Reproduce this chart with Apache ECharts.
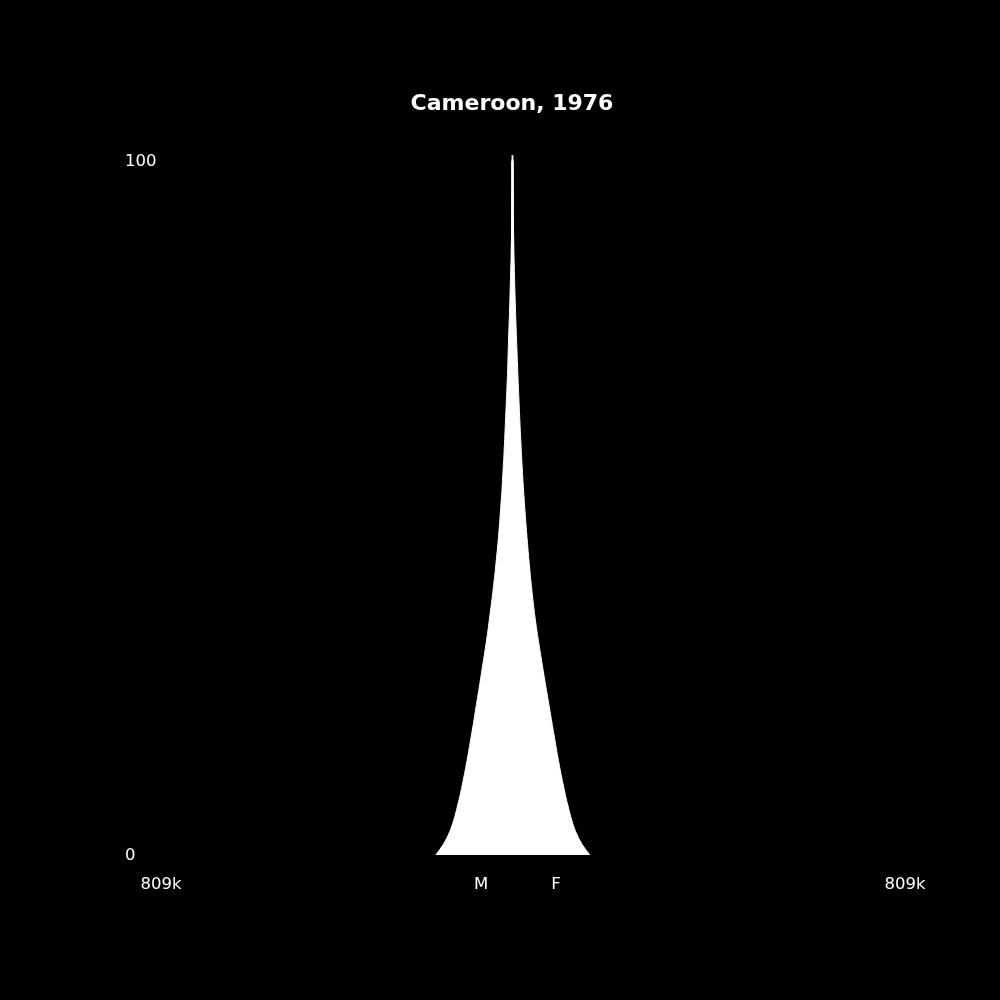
<!DOCTYPE html>
<html>
<head>
<meta charset="utf-8">
<script src="https://cdn.jsdelivr.net/npm/echarts@6/dist/echarts.min.js"></script>
<style>
html,body{margin:0;padding:0;background:#000;}
#chart{width:1000px;height:1000px;}
</style>
</head>
<body>
<div id="chart"></div>
<script>
// Population (thousands) by single year of age, 0..100
const ages = Array.from({length: 101}, (_, i) => i);
const malesK = [
 176.4,164.5,154.5,146.5,140.0,134.8,130.3,126.3,122.4,118.7,
 115.3,112.1,108.9,105.9,102.9,100.1,97.4,94.6,91.9,89.1,
 86.6,84.1,81.5,78.8,76.2,73.7,71.2,68.7,66.1,63.6,
 61.1,58.8,56.5,54.4,52.4,50.3,48.2,46.2,44.3,42.5,
 40.6,39.0,37.4,35.8,34.2,32.8,31.5,30.1,28.9,27.8,
 26.6,25.5,24.3,23.4,22.5,21.6,20.7,19.7,19.1,18.1,
 17.5,16.8,16.1,15.4,14.7,14.0,13.3,12.6,11.9,11.3,
 10.8,10.3,9.9,9.4,9.0,8.3,7.8,7.1,6.7,6.2,
 5.7,5.3,4.8,4.4,3.9,3.4,3.1,2.8,2.4,2.1,
 1.8,1.7,1.6,1.5,1.4,1.3,1.2,1.2,1.1,1.1,
 1.0
];
const femalesK = [
 178,165.5,155.5,147.5,141,136,131.5,127.5,123.5,120,
 116.5,113.2,110,107,104,101.2,98.5,95.8,93,90.3,
 87.6,84.9,82.2,79.5,76.7,74,71.4,68.8,66.2,63.6,
 61,58.5,56.1,53.8,51.6,49.6,47.7,45.9,44.2,42.5,
 40.9,39.4,37.9,36.5,35.1,33.8,32.5,31.2,30,28.8,
 27.7,26.6,25.5,24.5,23.5,22.6,21.7,20.8,20,19.2,
 18.4,17.6,16.9,16.2,15.5,14.8,14.1,13.4,12.7,12.1,
 11.5,10.9,10.3,9.7,9.1,8.5,7.9,7.3,6.8,6.3,
 5.8,5.3,4.9,4.5,4.1,3.7,3.3,3.0,2.7,2.4,
 2.1,1.9,1.7,1.6,1.5,1.4,1.3,1.2,1.1,1.1,
 1.0
];
const maxPop = 809000;
const maxLabel = '809k';
const yTickLabels = ['100', '0'];
const sexLabels = ['M', 'F'];
const titleText = 'Cameroon, 1976';

const chart = echarts.init(document.getElementById('chart'), null, {renderer: 'canvas'});
const font = 'DejaVu Sans';
const txt = (x, y, text, align) => ({
  type: 'text', x: x, y: y,
  style: {text: text, fill: '#fff', font: '16.5px "' + font + '"', align: align || 'center', verticalAlign: 'middle'}
});

chart.setOption({
  backgroundColor: '#000',
  animation: false,
  title: {
    text: titleText, left: 512, top: 104, textAlign: 'center', textVerticalAlign: 'middle', padding: 0,
    textStyle: {color: '#fff', fontFamily: font, fontWeight: 'bold', fontSize: 22}
  },
  grid: {left: 125, right: 100, top: 155, bottom: 145},
  xAxis: {
    type: 'value', min: -maxPop * 1.1, max: maxPop * 1.1,
    show: false
  },
  yAxis: {
    type: 'category', data: ages, boundaryGap: false, show: false
  },
  series: [
    {
      name: sexLabels[0], type: 'line', showSymbol: false, smooth: 0.5,
      data: malesK.map(v => -v * 1000),
      lineStyle: {color: '#fff', width: 1},
      itemStyle: {color: '#fff'},
      areaStyle: {color: '#fff', opacity: 1, origin: 3000}
    },
    {
      name: sexLabels[1], type: 'line', showSymbol: false, smooth: 0.5,
      data: femalesK.map(v => v * 1000),
      lineStyle: {color: '#fff', width: 1},
      itemStyle: {color: '#fff'},
      areaStyle: {color: '#fff', opacity: 1, origin: -3000}
    }
  ],
  graphic: [
    txt(125, 162, yTickLabels[0], 'left'),
    txt(125, 856, yTickLabels[1], 'left'),
    txt(161, 885, maxLabel),
    txt(905, 885, maxLabel),
    txt(481, 885, sexLabels[0]),
    txt(556, 885, sexLabels[1])
  ]
});
</script>
</body>
</html>
